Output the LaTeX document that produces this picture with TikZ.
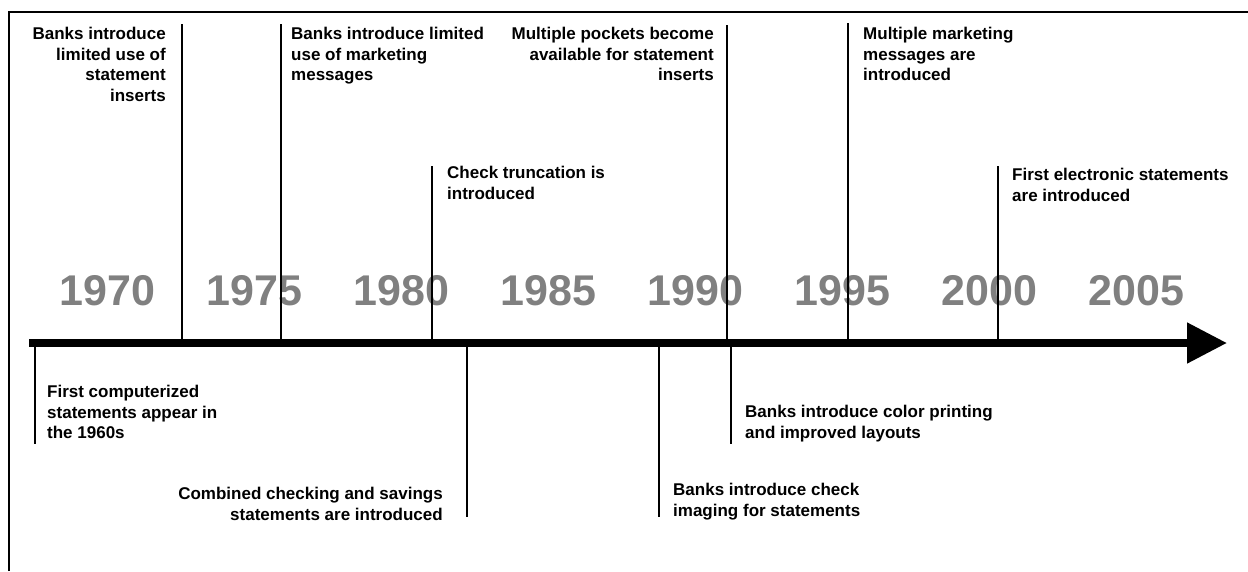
\documentclass[tikz,border=0pt]{standalone}
\usepackage{fontspec}
\setmainfont{Liberation Sans}
\usetikzlibrary{arrows.meta}
\definecolor{yeargray}{RGB}{128,128,128}
\tikzset{
  event/.style={font=\bfseries\fontsize{17}{20.5}\selectfont, inner sep=0pt, align=left},
  yearlbl/.style={font=\bfseries\fontsize{43}{43}\selectfont, text=yeargray, inner sep=0pt},
  stem/.style={line width=1.6pt},
  boxline/.style={line width=2pt}
}

\begin{document}
\begin{tikzpicture}[x=1pt,y=-1pt]
  \useasboundingbox (0,0) rectangle (1248,571);

  % frame (top and left edge)
  \coordinate (fl) at (9,571);
  \coordinate (ftl) at (9,12);
  \coordinate (ftr) at (1248,12);
  \draw[boxline] (fl) -- (ftl) -- (ftr);

  % years
  \foreach \yr [count=\i from 0] in {1970,1975,...,2005}
    \node[yearlbl] (y\yr) at (107.5+147*\i,290.5) {\yr};

  % axis
  \coordinate (axs) at (29,343);
  \coordinate (axe) at (1227,343);
  \draw[line width=8pt, -{Triangle[length=40pt,width=39pt]}] (axs) -- (axe);

  % events above the axis
  \node[event, anchor=north east, align=right] (inserts) at (166,27) {Banks introduce\\limited use of\\statement\\inserts};
  \node[event, anchor=north west] (mktg) at (291,27) {Banks introduce limited\\use of marketing\\messages};
  \node[event, anchor=north west] (trunc) at (447,166) {Check truncation is\\introduced};
  \node[event, anchor=north east, align=right] (pockets) at (714,27) {Multiple pockets become\\available for statement\\inserts};
  \node[event, anchor=north west] (multi) at (863,27) {Multiple marketing\\messages are\\introduced};
  \node[event, anchor=north west] (estmt) at (1012,168) {First electronic statements\\are introduced};

  % events below the axis
  \node[event, anchor=north west] (comp) at (47,385) {First computerized\\statements appear in\\the 1960s};
  \node[event, anchor=north east, align=right] (combo) at (443,487) {Combined checking and savings\\statements are introduced};
  \node[event, anchor=north west] (imaging) at (673,483) {Banks introduce check\\imaging for statements};
  \node[event, anchor=north west] (color) at (745,405) {Banks introduce color printing\\and improved layouts};

  % stems up
  \coordinate (s1t) at (182,24);  \coordinate (s1b) at (182,339);
  \coordinate (s2t) at (281,24);  \coordinate (s2b) at (281,339);
  \coordinate (s3t) at (432,166); \coordinate (s3b) at (432,339);
  \coordinate (s4t) at (727,25);  \coordinate (s4b) at (727,339);
  \coordinate (s5t) at (848,23);  \coordinate (s5b) at (848,339);
  \coordinate (s6t) at (998,166); \coordinate (s6b) at (998,339);
  \foreach \s in {1,...,6}
    \draw[stem] (s\s t) -- (s\s b);

  % stems down
  \coordinate (d1t) at (35,347);  \coordinate (d1b) at (35,444);
  \coordinate (d2t) at (467,347); \coordinate (d2b) at (467,517);
  \coordinate (d3t) at (659,347); \coordinate (d3b) at (659,517);
  \coordinate (d4t) at (731,347); \coordinate (d4b) at (731,444);
  \foreach \s in {1,...,4}
    \draw[stem] (d\s t) -- (d\s b);
\end{tikzpicture}
\end{document}
